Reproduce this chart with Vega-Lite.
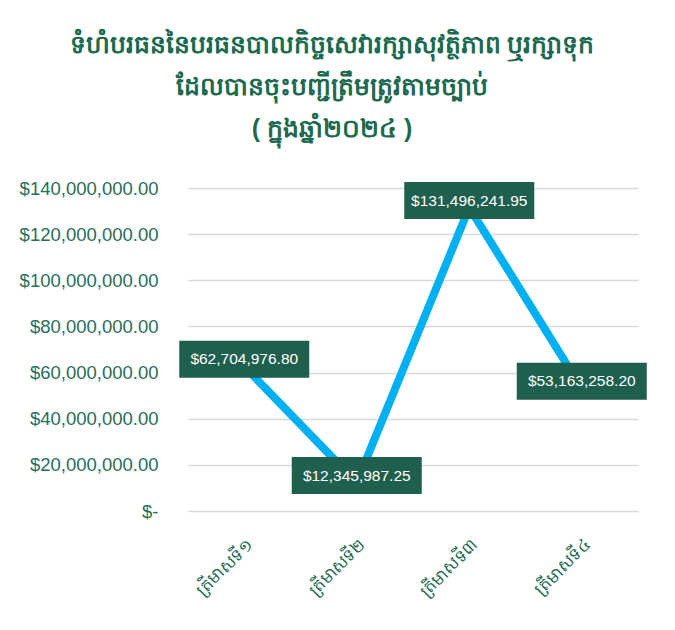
{
  "$schema": "https://vega.github.io/schema/vega-lite/v6.json",
  "width": 450,
  "height": 323,
  "autosize": {"type": "none"},
  "padding": {"left": 188, "top": 188, "right": 37, "bottom": 119},
  "background": "white",
  "title": {
    "text": ["ទំហំបរធននៃបរធនបាលកិច្ចសេវារក្សាសុវត្ថិភាព ឬរក្សាទុក", "ដែលបានចុះបញ្ជីត្រឹមត្រូវតាមច្បាប់", "( ក្នុងឆ្នាំ២០២៤ )"],
    "anchor": "middle",
    "dx": -81,
    "offset": 37,
    "fontSize": 25,
    "lineHeight": 42,
    "color": "#1d6a50",
    "fontWeight": "bold"
  },
  "data": {
    "values": [
      {"quarter": "ត្រីមាសទី១", "value": 62704976.80},
      {"quarter": "ត្រីមាសទី២", "value": 12345987.25},
      {"quarter": "ត្រីមាសទី៣", "value": 131496241.95},
      {"quarter": "ត្រីមាសទី៤", "value": 53163258.20}
    ]
  },
  "encoding": {
    "x": {
      "field": "quarter",
      "type": "ordinal",
      "sort": null,
      "scale": {"type": "point", "padding": 0.5},
      "axis": {
        "title": null,
        "labelAngle": -45,
        "domain": false,
        "ticks": false,
        "grid": false,
        "labelColor": "#1f6b52",
        "labelFontSize": 17,
        "labelPadding": 25
      }
    },
    "y": {
      "field": "value",
      "type": "quantitative",
      "scale": {"domain": [0, 140000000], "nice": false},
      "axis": {
        "title": null,
        "values": [0, 20000000, 40000000, 60000000, 80000000, 100000000, 120000000, 140000000],
        "labelExpr": "datum.value == 0 ? '$-   ' : '$' + format(datum.value, ',.2f')",
        "domain": false,
        "ticks": false,
        "labelPadding": 30,
        "gridColor": "#d9d9d9",
        "gridWidth": 1.5,
        "labelFontSize": 18.5,
        "labelColor": "#2a6e5a",
        "labelFont": "Liberation Sans"
      }
    }
  },
  "layer": [
    {"mark": {"type": "line", "color": "#00b0f0", "strokeWidth": 8}},
    {"mark": {"type": "rect", "width": 130, "height": 37, "color": "#1f5f4e", "yOffset": -7}},
    {
      "mark": {"type": "text", "color": "white", "fontSize": 15.5, "yOffset": -7, "font": "Liberation Sans"},
      "encoding": {"text": {"field": "value", "type": "quantitative", "format": "$,.2f"}}
    }
  ],
  "config": {"view": {"stroke": null}}
}
